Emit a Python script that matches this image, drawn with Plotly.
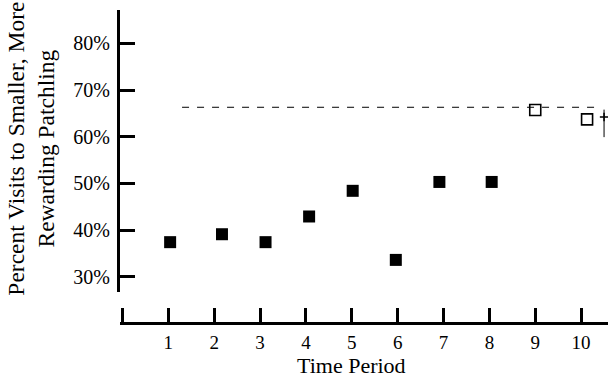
import plotly.graph_objects as go

# Data
periods_filled = [1.04, 2.17, 3.12, 4.07, 5.02, 5.96, 6.91, 8.05]
pct_filled = [37.4, 39.1, 37.4, 42.9, 48.4, 33.6, 50.3, 50.3]
periods_open = [9.0, 10.13]
pct_open = [65.7, 63.7]
ref_line_x = [1.3, 10.41]
ref_line_y = [66.3, 66.3]
glyph_x = [10.5]
glyph_y = [64.2]
glyph_err_plus = [1.6]
glyph_err_minus = [4.3]

x_tickvals = list(range(0, 11))
x_ticktext = [""] + [str(i) for i in range(1, 11)]
y_tickvals = [30, 40, 50, 60, 70, 80]
y_ticktext = [f"{v}%" for v in y_tickvals]

FONT = "Liberation Serif, Times New Roman, serif"

fig = go.Figure()

fig.add_trace(go.Scatter(
    x=periods_filled, y=pct_filled, mode="markers",
    marker=dict(symbol="square", size=12, color="black", line=dict(width=0)),
    showlegend=False, cliponaxis=False,
))
fig.add_trace(go.Scatter(
    x=ref_line_x, y=ref_line_y, mode="lines",
    line=dict(color="black", width=1, dash="7px,8px"),
    showlegend=False,
))
fig.add_trace(go.Scatter(
    x=periods_open, y=pct_open, mode="markers",
    marker=dict(symbol="square-open", size=11, color="black", line=dict(width=1.6, color="black")),
    showlegend=False, cliponaxis=False,
))
fig.add_trace(go.Scatter(
    x=glyph_x, y=glyph_y, mode="markers",
    marker=dict(symbol="cross-thin", size=6, line=dict(width=1.5, color="black")),
    error_y=dict(type="data", array=glyph_err_plus, arrayminus=glyph_err_minus,
                 symmetric=False, thickness=1, width=0, color="black"),
    showlegend=False,
))

fig.update_layout(
    width=608, height=377,
    margin=dict(l=120, r=0, t=10, b=54),
    paper_bgcolor="white", plot_bgcolor="white",
    font=dict(family=FONT, color="black", size=19),
    xaxis=dict(
        range=[-0.053, 10.586], anchor="free", position=0,
        showgrid=False, zeroline=False,
        showline=True, linewidth=3, linecolor="black",
        ticks="inside", ticklen=14, tickwidth=3, tickcolor="black",
        tickvals=x_tickvals, ticktext=x_ticktext,
        tickfont=dict(family=FONT, size=19, color="black"),
        ticklabelstandoff=1,
    ),
    yaxis=dict(
        range=[26.72, 87.14], domain=[0.099, 1],
        showgrid=False, zeroline=False,
        showline=True, linewidth=3, linecolor="black",
        ticks="inside", ticklen=15, tickwidth=3, tickcolor="black",
        tickvals=y_tickvals, ticktext=y_ticktext,
        tickfont=dict(family=FONT, size=20, color="black"),
        ticklabelstandoff=3,
    ),
    annotations=[
        dict(text="Time Period", xref="paper", yref="paper",
             x=0.475, y=-0.136, xanchor="center", yanchor="middle",
             showarrow=False, font=dict(family=FONT, size=22, color="black")),
        dict(text="Percent Visits to Smaller, More<br>Rewarding Patchling",
             xref="paper", yref="paper", x=-0.182, y=0.5575,
             xanchor="center", yanchor="middle", textangle=-90,
             showarrow=False, font=dict(family=FONT, size=23.5, color="black")),
    ],
)

fig.write_html("out.html")
